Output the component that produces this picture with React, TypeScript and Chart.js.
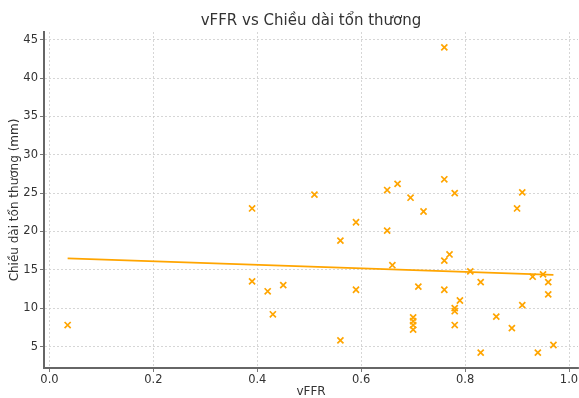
import React, { useEffect, useRef } from "react";
import { Chart, registerables } from "chart.js";

Chart.register(...registerables);

const vffr = [
  0.035, 0.39, 0.39, 0.42, 0.43, 0.45, 0.51, 0.56, 0.56, 0.59, 0.59, 0.65, 0.65, 0.67, 0.66, 0.695,
  0.72, 0.71, 0.70, 0.70, 0.70, 0.70, 0.76, 0.76, 0.78, 0.76, 0.77, 0.76, 0.79, 0.78, 0.78, 0.78,
  0.81, 0.83, 0.83, 0.86, 0.89, 0.90, 0.91, 0.91, 0.93, 0.95, 0.94, 0.96, 0.96, 0.97,
];
const lesionLength = [
  7.8, 23.0, 13.5, 12.2, 9.2, 13.0, 24.8, 18.8, 5.8, 21.2, 12.4, 25.4, 20.1, 26.2, 15.6, 24.4,
  22.6, 12.8, 8.8, 8.3, 7.8, 7.2, 44.0, 26.8, 25.0, 16.2, 17.0, 12.4, 11.0, 10.0, 9.6, 7.8,
  14.8, 13.4, 4.2, 8.9, 7.4, 23.0, 25.1, 10.4, 14.1, 14.4, 4.2, 13.4, 11.8, 5.2,
];
const trendX = [0.035, 0.97];
const trendY = [16.5, 14.35];
const xTicks = [0, 0.2, 0.4, 0.6, 0.8, 1.0];
const yTicks = [5, 10, 15, 20, 25, 30, 35, 40, 45];

const ORANGE = "#FFA500";
const FONT = "'DejaVu Sans', sans-serif";

const zeroPad = () => ({ left: 0, right: 0, top: 0, bottom: 0 });

export default function App() {
  const ref = useRef<HTMLCanvasElement | null>(null);
  useEffect(() => {
    if (!ref.current) return;
    const chart = new Chart(ref.current, {
      type: "scatter",
      data: {
        datasets: [
          {
            label: "points",
            data: vffr.map((x, i) => ({ x, y: lesionLength[i] })),
            pointStyle: "crossRot",
            pointRadius: 4.3,
            pointBorderWidth: 1.7,
            borderColor: ORANGE,
            backgroundColor: ORANGE,
            showLine: false,
            clip: false,
          },
          {
            label: "trend",
            data: trendX.map((x, i) => ({ x, y: trendY[i] })),
            showLine: true,
            pointRadius: 0,
            borderColor: ORANGE,
            borderWidth: 1.8,
          },
        ],
      },
      options: {
        animation: false,
        responsive: false,
        layout: { autoPadding: false, padding: { left: 0, right: 1, top: 0, bottom: 0 } },
        plugins: {
          legend: { display: false },
          tooltip: { enabled: false },
          title: {
            display: true,
            text: "vFFR vs Chiều dài tổn thương",
            color: "#333333",
            font: { family: FONT, size: 15, weight: "normal" },
            padding: { top: 12, bottom: 2 },
            fullSize: false,
          } as any,
        },
        scales: {
          x: {
            type: "linear",
            min: -0.0105,
            max: 1.0173,
            afterBuildTicks: (s: any) => {
              s.ticks = xTicks.map((v) => ({ value: v }));
            },
            afterFit: (s: any) => {
              s.height = 30;
              s.paddingLeft = 0;
              s.paddingRight = 0;
              s.getPadding = zeroPad;
            },
            ticks: {
              color: "#333333",
              font: { family: FONT, size: 11.5 },
              padding: 1,
              maxRotation: 0,
              callback: (v: any) => Number(v).toFixed(1),
            },
            grid: {
              color: "#cccccc",
              lineWidth: 0.8,
              tickLength: 4,
              tickColor: "#555555",
              tickBorderDash: [],
              drawTicks: true,
            } as any,
            border: { display: true, color: "#666666", width: 2, dash: [2, 2] },
            title: {
              display: true,
              text: "vFFR",
              color: "#333333",
              font: { family: FONT, size: 12, lineHeight: 1 },
              padding: { top: 0, bottom: 0 },
            },
          },
          y: {
            type: "linear",
            min: 2.2,
            max: 46.0,
            afterBuildTicks: (s: any) => {
              s.ticks = yTicks.map((v) => ({ value: v }));
            },
            afterFit: (s: any) => {
              s.width = 44;
              s.paddingTop = 0;
              s.paddingBottom = 0;
              s.getPadding = zeroPad;
            },
            ticks: {
              color: "#333333",
              font: { family: FONT, size: 11.5 },
              padding: 2,
            },
            grid: {
              color: "#cccccc",
              lineWidth: 0.8,
              tickLength: 4,
              tickColor: "#555555",
              tickBorderDash: [],
              drawTicks: true,
            } as any,
            border: { display: true, color: "#666666", width: 2, dash: [2, 2] },
            title: {
              display: true,
              text: "Chiều dài tổn thương (mm)",
              color: "#333333",
              font: { family: FONT, size: 12 },
              padding: { top: 8, bottom: 0 },
            },
          },
        },
      },
    });
    return () => chart.destroy();
  }, []);
  return (
    <div style={{ position: "fixed", left: 0, top: 0, width: 579, height: 398, background: "#fff" }}>
      <canvas ref={ref} width={579} height={398} style={{ width: 579, height: 398 }} />
    </div>
  );
}
